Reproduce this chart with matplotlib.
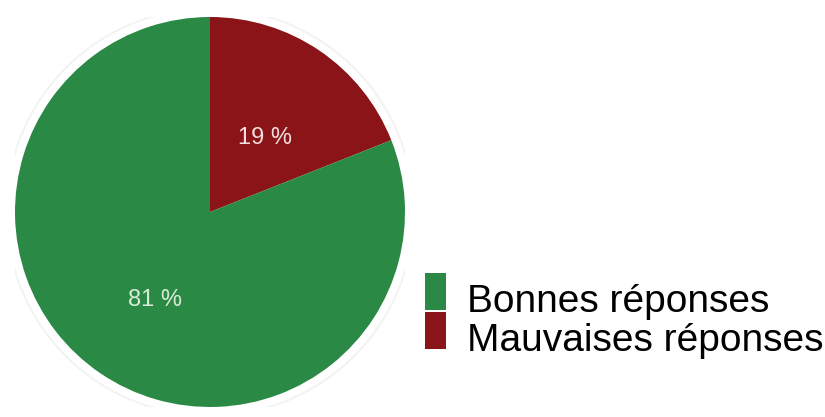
import matplotlib
matplotlib.use("Agg")
import matplotlib.pyplot as plt
from matplotlib.patches import Circle, Rectangle
from matplotlib.transforms import offset_copy
from matplotlib.legend_handler import HandlerPatch

labels = ["Mauvaises réponses", "Bonnes réponses"]
values = [19, 81]
colors = ["#8a1418", "#2a8944"]
pct_colors = ["#f2dede", "#d6ecd6"]
legend_order = [1, 0]

plt.rcParams['font.family'] = ['Liberation Sans', 'DejaVu Sans']

fig = plt.figure(figsize=(8.25, 4.17), dpi=100)
ax = fig.add_axes([15/825, 10/417, 390/825, 390/417])

ax.add_patch(Circle((0, 0), 1.045, facecolor="none", edgecolor="#f3f3f3", lw=1.5))

wedges, texts, autotexts = ax.pie(
    values, colors=colors, startangle=90, counterclock=False, radius=1,
    autopct=lambda p: f"{p:.0f} %", pctdistance=0.5,
    wedgeprops=dict(linewidth=0),
    textprops=dict(fontsize=17))
for t, c in zip(autotexts, pct_colors):
    t.set_color(c)
    t.set_transform(offset_copy(ax.transData, fig=fig, x=0, y=-7, units="dots"))
ax.set_xlim(-1.0, 1.0)
ax.set_ylim(-1.0, 1.0)
ax.set_aspect("equal")
ax.axis("off")


def raised_rect(legend, orig_handle, xdescent, ydescent, width, height, fontsize):
    return Rectangle(xy=(-xdescent, -ydescent + 5.0), width=width, height=height)


handles = [wedges[i] for i in legend_order]
leg_labels = [labels[i] for i in legend_order]
fig.legend(handles, leg_labels, loc="upper left",
           bbox_to_anchor=(425/825, 1 - 280/417),
           frameon=False, fontsize=28, borderpad=0, borderaxespad=0,
           handlelength=0.54, handleheight=1.1, handletextpad=0.55,
           labelspacing=-0.03,
           handler_map={type(wedges[0]): HandlerPatch(patch_func=raised_rect)})

fig.savefig("out.png", dpi=100, facecolor="white")
